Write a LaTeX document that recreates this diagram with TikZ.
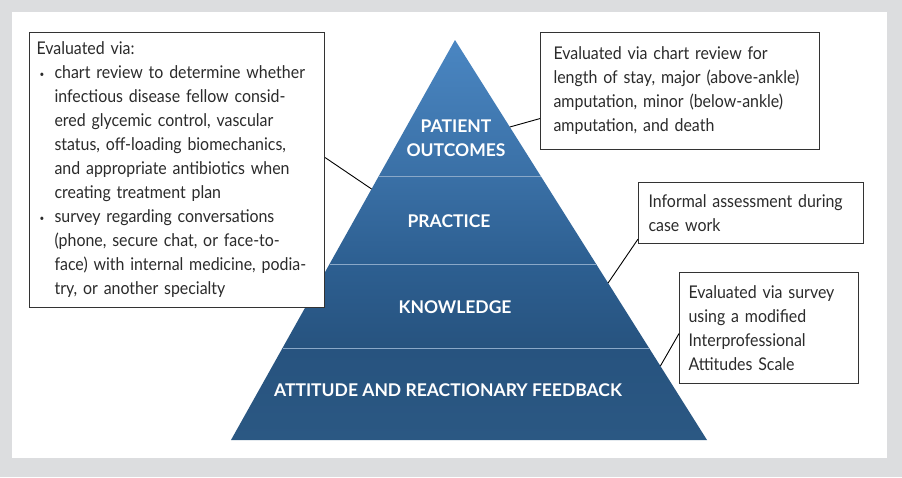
\documentclass[tikz,border=0pt]{standalone}
\usepackage{fontspec}
\setmainfont{Lato}
\newfontfamily\notefont{Lato}[FakeStretch=0.91]
\usetikzlibrary{calc}
\definecolor{panelgray}{HTML}{DCDDDF}
\definecolor{notetext}{HTML}{2B2B2B}
\definecolor{boxline}{HTML}{333333}
\definecolor{bandA}{HTML}{4A86C2}
\definecolor{bandB}{HTML}{3A70A6}
\definecolor{bandC}{HTML}{2D5F91}
\definecolor{bandD}{HTML}{27537F}
\definecolor{bandE}{HTML}{2B5883}
\definecolor{divline}{HTML}{8AA8C8}
\newcommand{\bul}{\makebox[18pt][l]{\hspace{3pt}\raisebox{1pt}{\small\textbullet}}}
\newcommand{\ind}{\hspace*{18pt}}
\tikzset{
  notebox/.style={draw=boxline,line width=1.1pt,fill=white,anchor=north west,
    align=left,inner ysep=0pt,text=notetext,font=\notefont\fontsize{17.5}{24}\selectfont},
  levelname/.style={text=white,align=center,inner sep=0pt,
    font=\bfseries\fontsize{17.5}{24}\selectfont},
  divider/.style={draw=divline,line width=0.8pt},
  pointer/.style={draw=black,line width=0.9pt}
}
\begin{document}
\begin{tikzpicture}[x=1pt,y=-1pt]
%panel
\fill[panelgray] (0,0) rectangle (902,477);
\fill[white] (12,12) rectangle (887,458);
\useasboundingbox (0,0) rectangle (902,477);
%pyramid
\coordinate (apex) at (455,40);
\coordinate (bl) at (231,440);
\coordinate (br) at (707,440);
\foreach \t/\n in {0.34/a,0.56/b,0.77/c}{
  \coordinate (l\n) at ($(apex)!\t!(bl)$);
  \coordinate (r\n) at ($(apex)!\t!(br)$);
}
\shade[top color=bandA,bottom color=bandB] (apex) -- (ra) -- (la) -- cycle;
\shade[top color=bandB,bottom color=bandC] (la) -- (ra) -- (rb) -- (lb) -- cycle;
\shade[top color=bandC,bottom color=bandD] (lb) -- (rb) -- (rc) -- (lc) -- cycle;
\shade[top color=bandD,bottom color=bandE] (lc) -- (rc) -- (br) -- (bl) -- cycle;
\draw[divider] (la) -- (ra);
\draw[divider] (lb) -- (rb);
\draw[divider] (lc) -- (rc);
%levels
\node[levelname] (outcomes) at (456,138) {PATIENT\\OUTCOMES};
\node[levelname,anchor=base] (practice) at (449,227) {PRACTICE};
\node[levelname,anchor=base] (knowledge) at (455,313) {KNOWLEDGE};
\node[levelname,anchor=base] (attitude) at (448,396) {ATTITUDE AND REACTIONARY FEEDBACK};
%notes
\node[notebox,minimum width=295,minimum height=275,text width=281,inner xsep=7]
  (chart) at (29,32) {Evaluated via:\\
  \bul chart review to determine whether\\
  \ind infectious disease fellow consid-\\
  \ind ered glycemic control, vascular\\
  \ind status, off-loading biomechanics,\\
  \ind and appropriate antibiotics when\\
  \ind creating treatment plan\\
  \bul survey regarding conversations\\
  \ind (phone, secure chat, or face-to-\\
  \ind face) with internal medicine, podia-\\
  \ind try, or another specialty};
\node[notebox,minimum width=279,minimum height=117,text width=253,inner xsep=13]
  (review) at (540,32) {Evaluated via chart review for\\
  length of stay, major (above-ankle)\\
  amputation, minor (below-ankle)\\
  amputation, and death};
\node[notebox,minimum width=225,minimum height=61,text width=205,inner xsep=10]
  (informal) at (638,182) {Informal assessment during\\case work};
\node[notebox,minimum width=179,minimum height=111,text width=161,inner xsep=9]
  (survey) at (679,272) {Evaluated via survey\\using a modified\\Interprofessional\\Attitudes Scale};
%pointers
\coordinate (pchart) at ($(apex)!0.3725!(bl)$);
\coordinate (preview) at ($(apex)!0.2175!(br)$);
\coordinate (pinformal) at ($(apex)!0.6075!(br)$);
\coordinate (psurvey) at ($(apex)!0.815!(br)$);
\draw[pointer] ([yshift=12.5pt]chart.east) -- (pchart);
\draw[pointer] ([yshift=-27.5pt]review.west) -- (preview);
\draw[pointer] ([yshift=5pt]informal.south west) -- (pinformal);
\draw[pointer] ([yshift=-5.5pt]survey.west) -- (psurvey);
\end{tikzpicture}
\end{document}
